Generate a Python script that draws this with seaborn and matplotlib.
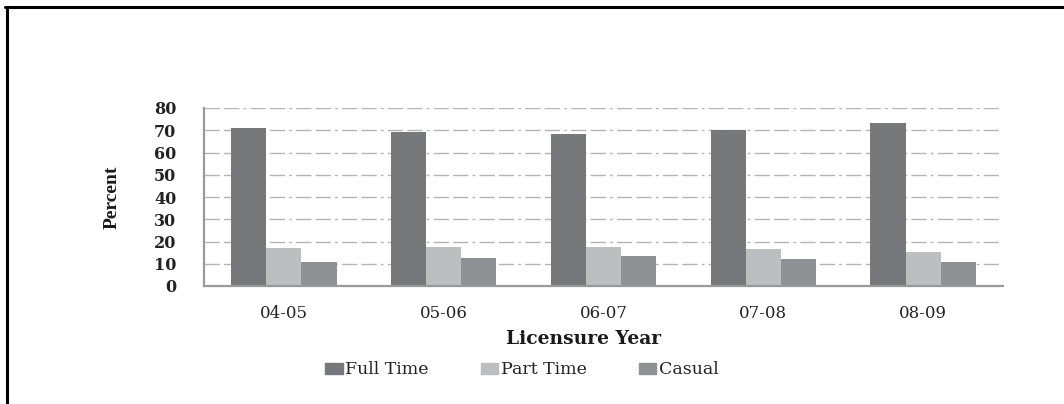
import matplotlib
matplotlib.use("Agg")
import matplotlib.pyplot as plt
from matplotlib.lines import Line2D
import seaborn as sns
import pandas as pd

# Employment status share by licensure year
years = ["04-05", "05-06", "06-07", "07-08", "08-09"]
full_time = [70.8, 69.2, 68.2, 70.0, 73.2]
part_time = [17.1, 17.4, 17.7, 16.5, 15.3]
casual = [11.0, 12.4, 13.5, 12.0, 10.6]
series = ["Full Time", "Part Time", "Casual"]
yticks = [0, 10, 20, 30, 40, 50, 60, 70, 80]

colors = {"Full Time": "#77787b", "Part Time": "#bdbec0", "Casual": "#8f9093"}

df = pd.DataFrame({
    "year": years * 3,
    "status": [s for s in series for _ in years],
    "value": full_time + part_time + casual,
})

sns.set_style("white")
plt.rcParams["font.family"] = ["DejaVu Serif"]

W, H = 1064, 404
fig = plt.figure(figsize=(W / 100, H / 100), dpi=100)
ax = fig.add_axes([204 / W, 1 - 286 / H, 799 / W, 178 / H])

sns.barplot(data=df, x="year", y="value", hue="status", order=years,
            hue_order=series, palette=colors, width=0.66, saturation=1,
            linewidth=0, ax=ax, legend=False)

ax.set_xlim(-0.5, len(years) - 0.5)
ax.set_ylim(0, 80)
ax.set_yticks(yticks)
ax.set_yticklabels([str(v) for v in yticks], fontsize=11.5, color="#222222",
                   fontweight="semibold")

# dash-dot horizontal gridlines
for v in yticks[1:]:
    ax.axhline(v, color="#b4b4b4", lw=1.0, dashes=(11, 3, 11, 3, 2, 3), zorder=0)

for s in ["top", "right"]:
    ax.spines[s].set_visible(False)
for s in ["left", "bottom"]:
    ax.spines[s].set_color("#9a9a9a")
    ax.spines[s].set_linewidth(1.6)

# category ticks sit between groups
ax.set_xticks(range(len(years)))
ax.set_xticklabels(years, fontsize=12, color="#222222")
ax.set_xticks([i - 0.5 for i in range(len(years) + 1)], minor=True)
ax.tick_params(axis="x", which="major", length=0, pad=14)
ax.tick_params(axis="x", which="minor", length=5, width=1.4, color="#9a9a9a",
               direction="out")
ax.tick_params(axis="y", length=8, width=1.4, color="#9a9a9a", direction="out",
               pad=12)

ax.set_ylabel("Percent", fontsize=14, fontweight="bold",
              family=["Liberation Serif"], color="#1a1a1a")
ax.yaxis.set_label_coords((112 - 204) / 799, 0.5)
ax.yaxis.label.set_va("center")

ax.set_xlabel("Licensure Year", fontsize=13.5, fontweight="bold", color="#1a1a1a")
ax.xaxis.set_label_coords((584 - 204) / 799, (286 - 339) / 178)
ax.xaxis.label.set_va("center")

handles = [plt.Rectangle((0, 0), 1, 1, color=colors[s]) for s in series]
fig.legend(handles, series, loc="center", bbox_to_anchor=(522 / W, 1 - 370 / H),
           ncol=3, frameon=False, fontsize=12.5, handlelength=1.0,
           handleheight=0.6, handletextpad=0.15, columnspacing=3.0,
           labelcolor="#222222")

# page border lines
fig.add_artist(Line2D([5 / W, 1], [1 - 7 / H, 1 - 7 / H], color="black", lw=2.2,
                      transform=fig.transFigure))
fig.add_artist(Line2D([7 / W, 7 / W], [0, 1 - 7 / H], color="black", lw=2.2,
                      transform=fig.transFigure))

fig.savefig("out.png", dpi=100)
